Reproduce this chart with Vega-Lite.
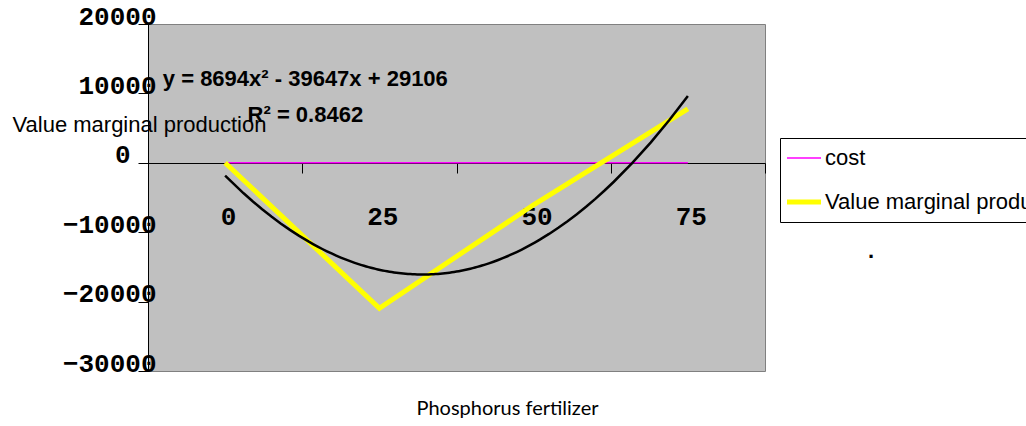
{
  "$schema": "https://vega.github.io/schema/vega-lite/v6.json",
  "width": 617,
  "height": 347,
  "autosize": {"type": "none"},
  "padding": {"left": 148, "top": 24, "right": 261, "bottom": 55},
  "background": "white",
  "config": {
    "view": {"fill": "#c0c0c0", "stroke": "#808080", "strokeWidth": 1},
    "axis": {"grid": false}
  },
  "data": {
    "values": [
      {"P": 0, "series": "cost", "value": 0},
      {"P": 25, "series": "cost", "value": 0},
      {"P": 50, "series": "cost", "value": 0},
      {"P": 75, "series": "cost", "value": 0},
      {"P": 0, "series": "Value marginal production", "value": 0},
      {"P": 25, "series": "Value marginal production", "value": -20953},
      {"P": 50, "series": "Value marginal production", "value": -6048},
      {"P": 75, "series": "Value marginal production", "value": 7775}
    ]
  },
  "layer": [
    {
      "transform": [{"filter": "datum.series == 'cost'"}],
      "mark": {"type": "line", "strokeWidth": 1.5},
      "encoding": {
        "x": {
          "field": "P",
          "type": "quantitative",
          "scale": {"domain": [-12.5, 87.5], "nice": false, "zero": false},
          "axis": {
            "orient": "bottom",
            "offset": -208,
            "values": [-12.5, 0, 12.5, 25, 37.5, 50, 62.5, 75, 87.5],
            "labelExpr": "datum.value % 25 == 0 ? datum.label : ''",
            "tickOpacity": {"condition": {"test": "datum.value % 25 == 0", "value": 0}, "value": 1},
            "domainColor": "black",
            "domainWidth": 1,
            "tickColor": "black",
            "tickSize": 10,
            "tickWidth": 1,
            "labelFont": "Liberation Mono",
            "labelFontWeight": "bold",
            "labelFontSize": 26,
            "labelColor": "black",
            "labelPadding": 30,
            "labelOffset": 3,
            "labelOverlap": false,
            "labelFlush": false,
            "labelBound": false,
            "title": "Phosphorus fertilizer",
            "titleFont": "Lato",
            "titleFontWeight": "normal",
            "titleFontSize": 20,
            "titleColor": "black",
            "titleAlign": "center",
            "titleBaseline": "alphabetic",
            "titleX": 359,
            "titleY": 251
          }
        },
        "y": {
          "field": "value",
          "type": "quantitative",
          "scale": {"domain": [-30000, 20000], "nice": false, "zero": false},
          "axis": {
            "values": [-30000, -20000, -10000, 0, 10000, 20000],
            "format": "d",
            "domainColor": "black",
            "domainWidth": 1,
            "tickColor": "black",
            "tickSize": 10,
            "tickWidth": 1,
            "labelFont": "Liberation Mono",
            "labelFontWeight": "bold",
            "labelFontSize": 26,
            "labelColor": "black",
            "labelAlign": "right",
            "labelBaseline": "middle",
            "labelOffset": -8,
            "labelPadding": {"condition": {"test": "datum.value == 0", "value": 8}, "value": -18},
            "labelOverlap": false,
            "labelBound": false,
            "labelFlush": false,
            "title": "Value marginal production",
            "titleAngle": 0,
            "titleAlign": "left",
            "titleBaseline": "middle",
            "titleFont": "Liberation Sans",
            "titleFontWeight": "normal",
            "titleFontSize": 22,
            "titleColor": "black",
            "titleX": -136,
            "titleY": 100
          }
        },
        "color": {
          "field": "series",
          "type": "nominal",
          "scale": {"domain": ["cost", "Value marginal production"], "range": ["#ff00ff", "#ffff00"]},
          "legend": {
            "orient": "none",
            "legendX": 632,
            "legendY": 114,
            "title": null,
            "strokeColor": "black",
            "fillColor": "white",
            "padding": 9,
            "symbolType": "stroke",
            "symbolSize": 1156,
            "symbolOffset": 4,
            "labelFont": "Liberation Sans",
            "labelFontSize": 22,
            "labelColor": "black",
            "labelLimit": 400,
            "labelOffset": 10,
            "rowPadding": 22,
            "encode": {"symbols": {"update": {"strokeWidth": {"signal": "datum.value === 'cost' ? 1.5 : 5"}}}}
          }
        }
      }
    },
    {
      "transform": [{"filter": "datum.series == 'Value marginal production'"}],
      "mark": {"type": "line", "strokeWidth": 5},
      "encoding": {
        "x": {"field": "P", "type": "quantitative"},
        "y": {"field": "value", "type": "quantitative"},
        "color": {"field": "series", "type": "nominal"}
      }
    },
    {
      "transform": [
        {"filter": "datum.series == 'Value marginal production'"},
        {"regression": "value", "on": "P", "method": "poly", "order": 2, "extent": [0, 75]}
      ],
      "mark": {"type": "line", "color": "black", "strokeWidth": 2.5},
      "encoding": {
        "x": {"field": "P", "type": "quantitative"},
        "y": {"field": "value", "type": "quantitative"}
      }
    },
    {
      "data": {"values": [{}]},
      "mark": {"type": "text", "text": "y = 8694x² - 39647x + 29106", "font": "Liberation Sans", "fontWeight": "bold", "fontSize": 22, "color": "black", "align": "center", "baseline": "middle"},
      "encoding": {"x": {"datum": 13, "type": "quantitative"}, "y": {"datum": 12100, "type": "quantitative"}}
    },
    {
      "data": {"values": [{}]},
      "mark": {"type": "text", "text": "R² = 0.8462", "font": "Liberation Sans", "fontWeight": "bold", "fontSize": 22, "color": "black", "align": "center", "baseline": "middle"},
      "encoding": {"x": {"datum": 13, "type": "quantitative"}, "y": {"datum": 6900, "type": "quantitative"}}
    },
    {
      "data": {"values": [{}]},
      "mark": {"type": "text", "text": ".", "font": "Liberation Sans", "fontWeight": "bold", "fontSize": 22, "color": "black", "align": "center", "baseline": "alphabetic"},
      "encoding": {"x": {"datum": 104.7, "type": "quantitative"}, "y": {"datum": -13700, "type": "quantitative"}}
    }
  ]
}
